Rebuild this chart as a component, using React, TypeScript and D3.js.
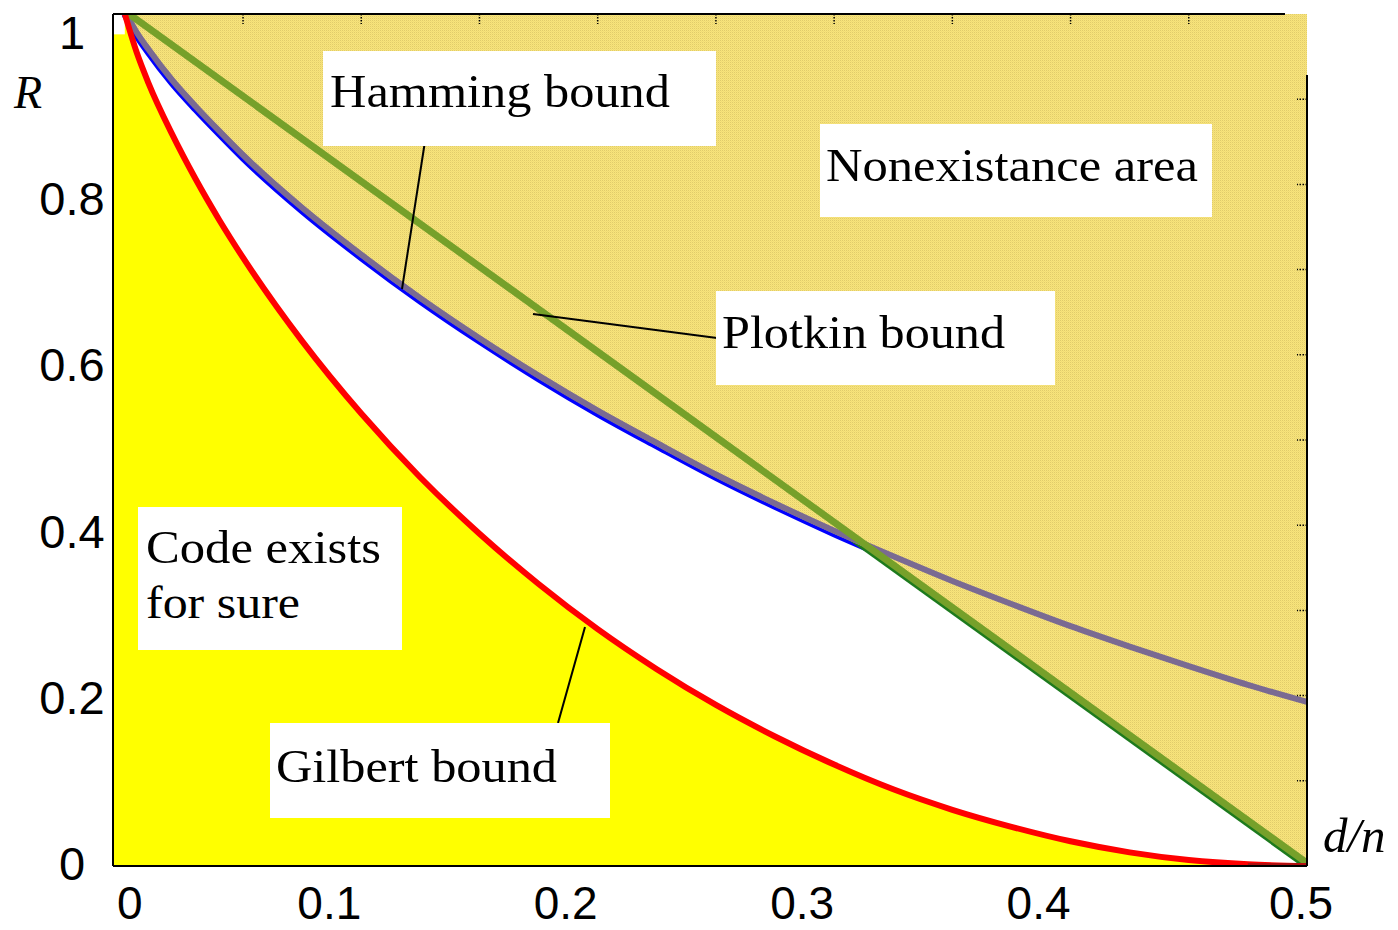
import React, { useEffect, useRef } from "react";
import * as d3 from "d3";

const deltaGrid = [0, 0.005, 0.01, 0.02, 0.03, 0.04, 0.05, 0.075, 0.1, 0.125, 0.15, 0.175, 0.2, 0.225, 0.25, 0.275, 0.3, 0.325, 0.35, 0.375, 0.4, 0.425, 0.45, 0.475, 0.5];
const gilbertR = [1, 0.955, 0.919, 0.859, 0.806, 0.758, 0.714, 0.616, 0.531, 0.456, 0.39, 0.331, 0.278, 0.231, 0.189, 0.152, 0.119, 0.09, 0.066, 0.046, 0.029, 0.016, 0.007, 0.002, 0];
const hammingR = [1, 0.975, 0.955, 0.919, 0.888, 0.859, 0.831, 0.769, 0.714, 0.663, 0.616, 0.572, 0.531, 0.493, 0.456, 0.422, 0.39, 0.36, 0.331, 0.304, 0.278, 0.254, 0.231, 0.209, 0.189];
const plotkinDelta = [0, 0.5];
const plotkinR = [1, 0];

const xTickValues = [0, 0.1, 0.2, 0.3, 0.4, 0.5];
const xTickLabels = ["0", "0.1", "0.2", "0.3", "0.4", "0.5"];
const yTickValues = [0, 0.2, 0.4, 0.6, 0.8, 1];
const yTickLabels = ["0", "0.2", "0.4", "0.6", "0.8", "1"];
const topMinorTicks = [0.05, 0.1, 0.15, 0.2, 0.25, 0.3, 0.35, 0.4, 0.45];
const rightMinorTicks = [0.1, 0.2, 0.3, 0.4, 0.5, 0.6, 0.7, 0.8, 0.9];

const App = () => {
  const ref = useRef<SVGSVGElement>(null);

  useEffect(() => {
    const width = 1398;
    const height = 930;
    const frame = { left: 113, right: 1307, top: 14, bottom: 866 };

    const svg = d3.select(ref.current);
    svg.selectAll("*").remove();
    svg.attr("width", width).attr("height", height);

    const x = d3.scaleLinear().domain([-0.005, 0.5]).range([frame.left, frame.right]);
    const y = d3.scaleLinear().domain([0, 1]).range([frame.bottom, frame.top]);
    // tick label baselines sit a bit off the grid in the original
    const yLabel = d3.scaleLinear().domain([0, 1]).range([880, 49]);

    const defs = svg.append("defs");
    const pat = defs
      .append("pattern")
      .attr("id", "hatch")
      .attr("width", 2)
      .attr("height", 2)
      .attr("patternUnits", "userSpaceOnUse");
    pat.append("rect").attr("width", 2).attr("height", 2).attr("fill", "#f9e57a");
    pat.append("rect").attr("width", 1).attr("height", 1).attr("fill", "#e0cb6c");
    pat.append("rect").attr("x", 1).attr("y", 1).attr("width", 1).attr("height", 1).attr("fill", "#efdb78");
    defs
      .append("clipPath")
      .attr("id", "plotClip")
      .append("rect")
      .attr("x", frame.left)
      .attr("y", frame.top)
      .attr("width", frame.right - frame.left)
      .attr("height", frame.bottom - frame.top);

    svg.append("rect").attr("width", width).attr("height", height).attr("fill", "#fff");

    const plot = svg.append("g").attr("clip-path", "url(#plotClip)");

    const gilbert = deltaGrid.map((d, i) => [d, gilbertR[i]] as [number, number]);
    const hamming = deltaGrid.map((d, i) => [d, hammingR[i]] as [number, number]);
    const plotkin = plotkinDelta.map((d, i) => [d, plotkinR[i]] as [number, number]);

    const smooth = d3
      .line<[number, number]>()
      .x((d) => x(d[0]))
      .y((d) => y(d[1]))
      .curve(d3.curveMonotoneX);
    const straight = d3
      .line<[number, number]>()
      .x((d) => x(d[0]))
      .y((d) => y(d[1]));

    // code exists area (under Gilbert), stretched to the left frame edge
    const below = d3
      .area<[number, number]>()
      .x((d) => x(d[0]))
      .y0(y(0))
      .y1((d) => y(d[1]))
      .curve(d3.curveMonotoneX);
    plot.append("rect")
      .attr("x", frame.left)
      .attr("y", y(gilbertR[1]) - 18)
      .attr("width", x(0) - frame.left + 1)
      .attr("height", y(0) - y(gilbertR[1]) + 18)
      .attr("fill", "#ffff00");
    plot.append("path").attr("d", below(gilbert)).attr("fill", "#ffff00");

    // lower halves of the bound curves peek out below the hatched area
    plot.append("path").attr("d", smooth(hamming)).attr("fill", "none").attr("stroke", "#0000ff").attr("stroke-width", 7);
    plot.append("path").attr("d", straight(plotkin)).attr("fill", "none").attr("stroke", "#1d7a1d").attr("stroke-width", 7);

    // nonexistance area = above either bound
    const aboveSmooth = d3
      .area<[number, number]>()
      .x((d) => x(d[0]))
      .y0(frame.top)
      .y1((d) => y(d[1]))
      .curve(d3.curveMonotoneX);
    const aboveStraight = d3
      .area<[number, number]>()
      .x((d) => x(d[0]))
      .y0(frame.top)
      .y1((d) => y(d[1]));
    plot.append("path").attr("d", aboveSmooth(hamming)).attr("fill", "url(#hatch)");
    plot.append("path").attr("d", aboveStraight(plotkin)).attr("fill", "url(#hatch)");

    plot.append("path")
      .attr("d", smooth(hamming))
      .attr("transform", "translate(0,-3)")
      .attr("fill", "none")
      .attr("stroke", "#7a6a92")
      .attr("stroke-width", 6);
    plot.append("path")
      .attr("d", straight(plotkin))
      .attr("transform", "translate(0,-3)")
      .attr("fill", "none")
      .attr("stroke", "#76a02a")
      .attr("stroke-width", 7);
    plot.append("path")
      .attr("d", smooth(gilbert))
      .attr("fill", "none")
      .attr("stroke", "#ff0000")
      .attr("stroke-width", 6);
    // dark red tail lying on the axis near d/n = 0.5
    plot.append("line")
      .attr("x1", x(0.475))
      .attr("x2", x(0.5))
      .attr("y1", y(0) - 1)
      .attr("y2", y(0) - 1)
      .attr("stroke", "#b01010")
      .attr("stroke-width", 4);

    // frame
    const fr = svg.append("g").attr("stroke", "#000").attr("stroke-width", 2).attr("fill", "none");
    fr.append("line").attr("x1", frame.left).attr("x2", frame.left).attr("y1", frame.top).attr("y2", frame.bottom);
    fr.append("line").attr("x1", frame.left).attr("x2", frame.right).attr("y1", frame.bottom).attr("y2", frame.bottom);
    fr.append("line").attr("x1", frame.left).attr("x2", frame.right - 22).attr("y1", frame.top).attr("y2", frame.top);
    fr.append("line").attr("x1", frame.right).attr("x2", frame.right).attr("y1", 75).attr("y2", frame.bottom);

    // dotted minor ticks on the top and right edges
    const dots = svg.append("g").attr("stroke", "#000").attr("stroke-width", 1.5).attr("stroke-dasharray", "1.5,1.5");
    topMinorTicks.forEach((t) => {
      dots.append("line").attr("x1", x(t)).attr("x2", x(t)).attr("y1", frame.top).attr("y2", frame.top + 10);
    });
    rightMinorTicks.forEach((t) => {
      dots.append("line").attr("x1", frame.right).attr("x2", frame.right - 10).attr("y1", y(t)).attr("y2", y(t));
    });

    // tick labels
    const tickFont = "'Liberation Sans', Arial, sans-serif";
    xTickValues.forEach((v, i) => {
      const edge = i === 0 || i === xTickValues.length - 1;
      svg.append("text")
        .attr("x", edge ? x(v) + (i === 0 ? 5 : -6) : x(v))
        .attr("y", 919)
        .attr("text-anchor", edge ? "middle" : "end")
        .attr("font-family", tickFont)
        .attr("font-size", 46)
        .text(xTickLabels[i]);
    });
    yTickValues.forEach((v, i) => {
      svg.append("text")
        .attr("x", 72)
        .attr("y", yLabel(v))
        .attr("text-anchor", "middle")
        .attr("font-family", tickFont)
        .attr("font-size", 47)
        .text(yTickLabels[i]);
    });

    const serif = "'Liberation Serif', 'Times New Roman', serif";
    svg.append("text").attr("x", 14).attr("y", 108).attr("font-family", serif).attr("font-style", "italic").attr("font-size", 46).text("R");
    svg.append("text").attr("x", 1323).attr("y", 852).attr("font-family", serif).attr("font-style", "italic").attr("font-size", 49).text("d/n");

    // pointer lines
    const ptr = svg.append("g").attr("stroke", "#000").attr("stroke-width", 2);
    ptr.append("line").attr("x1", 428).attr("y1", 122).attr("x2", 402).attr("y2", 289);
    ptr.append("line").attr("x1", 533).attr("y1", 314).attr("x2", 717).attr("y2", 338);
    ptr.append("line").attr("x1", 585).attr("y1", 627).attr("x2", 558).attr("y2", 723);

    // white label boxes
    const notes = [
      { box: [323, 51, 393, 95], lines: [{ t: "Hamming bound", x: 330, y: 107, w: 340 }] },
      { box: [820, 124, 392, 93], lines: [{ t: "Nonexistance area", x: 826, y: 181, w: 372 }] },
      { box: [716, 291, 339, 94], lines: [{ t: "Plotkin bound", x: 722, y: 348, w: 283 }] },
      {
        box: [138, 507, 264, 143],
        lines: [
          { t: "Code exists", x: 146, y: 563, w: 235 },
          { t: "for sure", x: 146, y: 618, w: 154 },
        ],
      },
      { box: [270, 723, 340, 95], lines: [{ t: "Gilbert bound", x: 276, y: 782, w: 281 }] },
    ];
    notes.forEach((n) => {
      svg.append("rect")
        .attr("x", n.box[0])
        .attr("y", n.box[1])
        .attr("width", n.box[2])
        .attr("height", n.box[3])
        .attr("fill", "#fff");
      n.lines.forEach((l) => {
        svg.append("text")
          .attr("x", l.x)
          .attr("y", l.y)
          .attr("font-family", serif)
          .attr("font-size", 46)
          .attr("textLength", l.w)
          .attr("lengthAdjust", "spacingAndGlyphs")
          .text(l.t);
      });
    });
  }, []);

  return (
    <div>
      <svg ref={ref} style={{ position: "absolute", left: 0, top: 0 }} />
    </div>
  );
};

export default App;
